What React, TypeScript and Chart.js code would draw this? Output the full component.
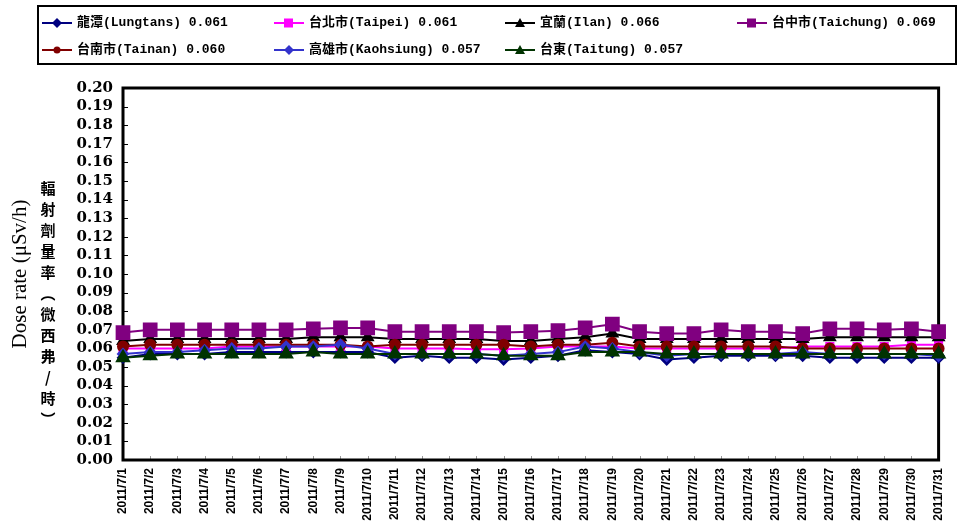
import React, { useEffect, useRef } from 'react';
import { Chart, registerables } from 'chart.js';
Chart.register(...registerables);

const categories = [
  '2011/7/1', '2011/7/2', '2011/7/3', '2011/7/4', '2011/7/5', '2011/7/6', '2011/7/7', '2011/7/8',
  '2011/7/9', '2011/7/10', '2011/7/11', '2011/7/12', '2011/7/13', '2011/7/14', '2011/7/15', '2011/7/16',
  '2011/7/17', '2011/7/18', '2011/7/19', '2011/7/20', '2011/7/21', '2011/7/22', '2011/7/23', '2011/7/24',
  '2011/7/25', '2011/7/26', '2011/7/27', '2011/7/28', '2011/7/29', '2011/7/30', '2011/7/31',
];

const seriesNames = ['龍潭(Lungtans)', '台北市(Taipei)', '宜蘭(Ilan)', '台中市(Taichung)', '台南市(Tainan)', '高雄市(Kaohsiung)', '台東(Taitung)'];
const seriesAverages = ['0.061', '0.061', '0.066', '0.069', '0.060', '0.057', '0.057'];

const lungtans = [0.055, 0.057, 0.057, 0.057, 0.058, 0.058, 0.058, 0.058, 0.058, 0.058, 0.055, 0.056, 0.055, 0.055, 0.054, 0.055, 0.056, 0.059, 0.058, 0.057, 0.054, 0.055, 0.056, 0.056, 0.056, 0.056, 0.055, 0.055, 0.055, 0.055, 0.055];
const taipei = [0.060, 0.060, 0.060, 0.060, 0.061, 0.061, 0.061, 0.061, 0.061, 0.061, 0.060, 0.060, 0.060, 0.0595, 0.0595, 0.060, 0.061, 0.061, 0.061, 0.060, 0.060, 0.060, 0.060, 0.060, 0.060, 0.061, 0.061, 0.061, 0.061, 0.062, 0.062];
const ilan = [0.064, 0.065, 0.065, 0.065, 0.065, 0.065, 0.065, 0.066, 0.066, 0.066, 0.065, 0.065, 0.065, 0.065, 0.064, 0.064, 0.065, 0.066, 0.068, 0.065, 0.065, 0.065, 0.065, 0.065, 0.065, 0.065, 0.066, 0.066, 0.066, 0.066, 0.066];
const taichung = [0.0685, 0.070, 0.070, 0.070, 0.070, 0.070, 0.070, 0.0705, 0.071, 0.071, 0.069, 0.069, 0.069, 0.069, 0.0685, 0.069, 0.0695, 0.071, 0.073, 0.069, 0.068, 0.068, 0.070, 0.069, 0.069, 0.068, 0.0705, 0.0705, 0.070, 0.0705, 0.069];
const tainan = [0.061, 0.062, 0.062, 0.062, 0.062, 0.062, 0.062, 0.062, 0.062, 0.061, 0.062, 0.062, 0.062, 0.062, 0.062, 0.061, 0.062, 0.062, 0.063, 0.061, 0.061, 0.061, 0.061, 0.061, 0.061, 0.060, 0.060, 0.060, 0.060, 0.060, 0.060];
const kaohsiung = [0.057, 0.058, 0.058, 0.059, 0.060, 0.060, 0.061, 0.061, 0.062, 0.060, 0.057, 0.057, 0.057, 0.057, 0.056, 0.057, 0.058, 0.061, 0.060, 0.058, 0.056, 0.057, 0.057, 0.057, 0.057, 0.058, 0.057, 0.057, 0.057, 0.057, 0.056];
const taitung = [0.055, 0.056, 0.057, 0.057, 0.057, 0.057, 0.057, 0.058, 0.057, 0.057, 0.057, 0.057, 0.057, 0.057, 0.056, 0.056, 0.056, 0.058, 0.058, 0.058, 0.057, 0.057, 0.057, 0.057, 0.057, 0.057, 0.057, 0.057, 0.057, 0.057, 0.057];

const seriesValues = [lungtans, taipei, ilan, taichung, tainan, kaohsiung, taitung];
const seriesColors = ['#000080', '#FF00FF', '#000000', '#800080', '#800000', '#3333CC', '#003300'];
const seriesMarkers = ['rectRot', 'rect', 'triangle', 'rect', 'circle', 'rectRot', 'triangle'];
const seriesRadius = [5, 5, 6, 9, 5, 5, 7];

const yTitle = 'Dose rate (μSv/h)';
const yTitleZh = ['輻', '射', '劑', '量', '率', '︵', '微', '西', '弗', '/', '時', '︶'];

const framePlugin = {
  id: 'frame',
  beforeDatasetsDraw(chart: any) {
    const { ctx, chartArea } = chart;
    const { left, right, top, bottom } = chartArea;
    ctx.save();
    ctx.strokeStyle = '#000';
    ctx.lineWidth = 1;
    const ys = chart.scales.y;
    ys.ticks.forEach((_t: any, i: number) => {
      const py = Math.round(ys.getPixelForTick(i)) + 0.5;
      ctx.beginPath();
      ctx.moveTo(left, py);
      ctx.lineTo(left + 5, py);
      ctx.stroke();
    });
    const xs = chart.scales.x;
    ctx.strokeStyle = '#999';
    xs.ticks.forEach((_t: any, i: number) => {
      const px = Math.round(xs.getPixelForTick(i)) + 0.5;
      ctx.beginPath();
      ctx.moveTo(px, bottom);
      ctx.lineTo(px, bottom - 4);
      ctx.stroke();
    });
    ctx.strokeStyle = '#000';
    ctx.lineWidth = 3;
    ctx.strokeRect(left, top, right - left, bottom - top);
    ctx.restore();
  },
  afterDraw(chart: any) {
    const { ctx } = chart;
    ctx.save();
    ctx.fillStyle = '#000';
    ctx.font = 'bold 15px "Noto Sans CJK TC"';
    ctx.textAlign = 'center';
    ctx.textBaseline = 'middle';
    yTitleZh.forEach((c, i) => {
      ctx.fillText(c, 48, 188 + i * 21);
    });
    ctx.restore();
  },
};

function LegendMarker({ color, marker }: { color: string; marker: string }) {
  let shape: any = null;
  if (marker === 'rectRot') shape = <polygon points="15,1 20,6 15,11 10,6" fill={color} />;
  else if (marker === 'rect') shape = <rect x={10} y={1.5} width={9} height={9} fill={color} />;
  else if (marker === 'triangle') shape = <polygon points="15,1 20,10 10,10" fill={color} />;
  else shape = <circle cx={15} cy={6} r={3.5} fill={color} />;
  return (
    <svg width={30} height={12} style={{ position: 'absolute', left: 0, top: 3 }}>
      <line x1={0} y1={6} x2={30} y2={6} stroke={color} strokeWidth={2} />
      {shape}
    </svg>
  );
}

export default function App() {
  const ref = useRef<HTMLCanvasElement>(null);
  useEffect(() => {
    if (!ref.current) return;
    const chart = new Chart(ref.current, {
      type: 'line',
      data: {
        labels: categories,
        datasets: seriesValues.map((vals, i) => ({
          label: seriesNames[i] + ' ' + seriesAverages[i],
          data: vals,
          borderColor: seriesColors[i],
          backgroundColor: seriesColors[i],
          pointBackgroundColor: seriesColors[i],
          pointBorderColor: seriesColors[i],
          pointStyle: seriesMarkers[i] as any,
          pointRadius: seriesRadius[i],
          borderWidth: 2,
          tension: 0,
          order: 7 - i,
        })),
      },
      plugins: [framePlugin],
      options: {
        responsive: false,
        animation: false,
        layout: { padding: { top: 88, right: 21, left: 0, bottom: 0 } },
        plugins: { legend: { display: false }, tooltip: { enabled: false } },
        scales: {
          x: {
            offset: false,
            grid: { display: false, drawTicks: false },
            border: { display: false },
            afterFit: (s: any) => { s.height = 72; },
            ticks: {
              autoSkip: false,
              minRotation: 90,
              maxRotation: 90,
              padding: 8,
              color: '#000',
              font: { family: '"Liberation Sans", Arial', size: 12, weight: 'bold' },
            },
          },
          y: {
            min: 0,
            max: 0.2,
            grid: { display: false, drawTicks: false },
            border: { display: false },
            afterFit: (s: any) => { s.width = 123; },
            title: {
              display: true,
              text: yTitle,
              color: '#000',
              padding: { top: 8, bottom: 0 },
              font: { family: '"Liberation Serif", "Times New Roman", serif', size: 21, weight: 'normal' },
            },
            ticks: {
              stepSize: 0.01,
              autoSkip: false,
              padding: 10,
              color: '#000',
              font: { family: '"DejaVu Serif", serif', size: 15, weight: 'bold' },
              callback: (v: any) => Number(v).toFixed(2),
            },
          },
        },
      } as any,
    });
    return () => chart.destroy();
  }, []);

  const legendFont = 'bold 13px "Liberation Mono", "Noto Sans CJK TC", monospace';
  const colX = [42, 274, 505, 737];
  const rowY = [14, 41];

  return (
    <div style={{ position: 'absolute', left: 0, top: 0, width: 961, height: 532, background: '#fff' }}>
      <canvas ref={ref} width={961} height={532} style={{ position: 'absolute', left: 0, top: 0 }} />
      <div style={{ position: 'absolute', left: 37, top: 5, width: 920, height: 60, border: '2px solid #000', boxSizing: 'border-box' }} />
      {seriesNames.map((name, i) => {
        const col = i < 4 ? i : i - 4;
        const row = i < 4 ? 0 : 1;
        return (
          <div key={name} style={{ position: 'absolute', left: colX[col], top: rowY[row], height: 18, whiteSpace: 'nowrap', font: legendFont, color: '#000' }}>
            <LegendMarker color={seriesColors[i]} marker={seriesMarkers[i]} />
            <span style={{ position: 'absolute', left: 35, top: 0, lineHeight: '18px' }}>{name + ' ' + seriesAverages[i]}</span>
          </div>
        );
      })}
    </div>
  );
}
